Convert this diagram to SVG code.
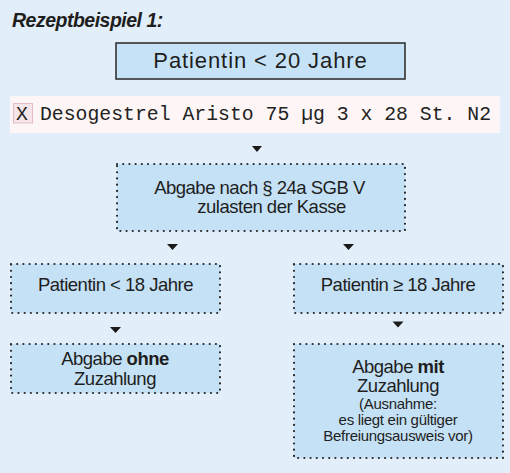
<svg xmlns="http://www.w3.org/2000/svg" width="510" height="473" viewBox="0 0 510 473">
<style>
.t{font-family:"Liberation Sans",Arial,sans-serif;fill:#1e1e1e;text-anchor:middle}
.b{font-size:18.5px;letter-spacing:-0.5px}
.s{font-size:15px;letter-spacing:-0.3px}
.dot{fill:#c5e1f5;stroke:#262626;stroke-width:2.2;stroke-dasharray:0.01 6.2;stroke-linecap:round}
.arr{fill:#1a1a1a}
</style>
<rect width="510" height="473" fill="#e2eef9"/>
<text x="12" y="27" style="font-family:'Liberation Sans',Arial,sans-serif;font-size:19.5px;font-weight:bold;font-style:italic;letter-spacing:-0.5px;fill:#1e1e1e">Rezeptbeispiel 1:</text>
<g id="n-top">
<rect x="116" y="43" width="289" height="36" fill="#c6e2f6" stroke="#333" stroke-width="1.6"/>
<text class="t" x="260.5" y="68" style="font-size:22px;letter-spacing:0.9px">Patientin &lt; 20 Jahre</text>
</g>
<g id="n-rx">
<rect x="10" y="96" width="490" height="37" fill="#fef6f6"/>
<rect x="13.5" y="103.5" width="19" height="19.5" fill="#f6e6ea" stroke="#e2bcc8" stroke-width="1"/>
<text x="16" y="119.5" style="font-family:'Liberation Mono','Courier New',monospace;font-size:19.8px;fill:#222">X</text>
<text x="40" y="119.5" style="font-family:'Liberation Mono','Courier New',monospace;font-size:19.8px;fill:#222">Desogestrel Aristo 75 µg 3 x 28 St. N2</text>
</g>
<g id="connectors">
<path class="arr" d="M252 146H262L257 152Z"/>
<path class="arr" d="M167 244H178L172.5 250Z"/>
<path class="arr" d="M343 244H354L348.5 250Z"/>
<path class="arr" d="M110 327H121L115.5 333Z"/>
<path class="arr" d="M392.5 321.5H403.5L398 327.5Z"/>
</g>
<g id="n-abgabe">
<rect class="dot" x="117" y="164" width="288" height="67"/>
<text class="t b" x="259.5" y="194">Abgabe nach § 24a SGB V</text>
<text class="t b" x="271.5" y="213">zulasten der Kasse</text>
</g>
<g id="n-u18">
<rect class="dot" x="11" y="264" width="209" height="49"/>
<text class="t b" x="115.5" y="291">Patientin &lt; 18 Jahre</text>
</g>
<g id="n-o18">
<rect class="dot" x="294" y="264" width="209" height="49"/>
<text class="t b" x="398" y="291">Patientin ≥ 18 Jahre</text>
</g>
<g id="n-ohne">
<rect class="dot" x="11" y="344" width="209" height="49"/>
<text class="t b" x="115" y="365">Abgabe <tspan font-weight="bold">ohne</tspan></text>
<text class="t b" x="115" y="385">Zuzahlung</text>
</g>
<g id="n-mit">
<rect class="dot" x="294" y="344" width="209" height="114"/>
<text class="t b" x="398" y="373">Abgabe <tspan font-weight="bold">mit</tspan></text>
<text class="t b" x="398" y="392">Zuzahlung</text>
<text class="t s" x="398" y="409">(Ausnahme:</text>
<text class="t s" x="398" y="425">es liegt ein gültiger</text>
<text class="t s" x="398" y="441">Befreiungsausweis vor)</text>
</g>
</svg>
